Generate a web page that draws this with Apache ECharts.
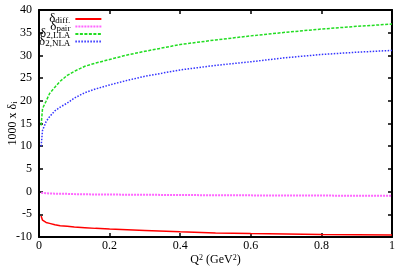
<!DOCTYPE html>
<html>
<head>
<meta charset="utf-8">
<script src="https://cdn.jsdelivr.net/npm/echarts@6/dist/echarts.min.js"></script>
<style>
html,body{margin:0;padding:0;background:#fff;}
#c{width:409px;height:273px;}
</style>
</head>
<body>
<div id="c"></div>
<script>
// Q^2 sample points (GeV^2)
const q2 = [0.006, 0.01, 0.02, 0.03, 0.045, 0.06, 0.08, 0.1, 0.13, 0.16, 0.2, 0.25, 0.3, 0.4, 0.5, 0.6, 0.7, 0.8, 0.9, 1.0];
// 1000 x delta values
const deltaDiff = [-5.4, -6.3, -6.8, -7.0, -7.3, -7.5, -7.65, -7.8, -7.95, -8.1, -8.25, -8.4, -8.55, -8.85, -9.1, -9.25, -9.35, -9.45, -9.5, -9.55];
const deltaPair = [-0.25, -0.3, -0.35, -0.4, -0.45, -0.5, -0.5, -0.55, -0.6, -0.62, -0.65, -0.68, -0.7, -0.75, -0.8, -0.83, -0.86, -0.88, -0.9, -0.92];
const delta2LLA = [14.6, 18.3, 19.9, 21.6, 23.0, 24.3, 25.6, 26.5, 27.6, 28.3, 29.1, 30.1, 30.9, 32.4, 33.4, 34.3, 35.1, 35.8, 36.4, 36.9];
const delta2NLA = [10.0, 13.5, 15.4, 16.5, 17.8, 18.6, 19.5, 20.6, 21.8, 22.6, 23.5, 24.5, 25.4, 26.8, 27.8, 28.6, 29.5, 30.2, 30.7, 31.1];
const seriesNames = ['diff.', 'pair', '2,LLA', '2,NLA'];
const xTicks = {min: 0, max: 1, interval: 0.2};
const yTicks = {min: -10, max: 40, interval: 5};

const FONT = '"Liberation Serif", "DejaVu Serif", serif';
function pairs(ys){ return q2.map((x,i)=>[x, ys[i]]); }

const chart = echarts.init(document.getElementById('c'), null, {renderer:'canvas'});
const axisCommon = {
  axisLine:{show:true, onZero:false, lineStyle:{color:'#000', width:2}},
  axisTick:{show:true, inside:true, length:4, lineStyle:{color:'#000', width:1.5}},
  splitLine:{show:false},
  axisLabel:{color:'#000', fontFamily:FONT, fontSize:12}
};
chart.setOption({
  animation:false,
  backgroundColor:'#fff',
  grid:{left:39, right:17, top:10, bottom:36, containLabel:false, outerBoundsMode:'none'},
  legend:{
    show:true,
    orient:'vertical',
    left:34, top:4.5,
    align:'right',
    itemWidth:26, itemHeight:8,
    itemGap:-8.5,
    data: seriesNames,
    itemStyle:{opacity:0},
    formatter: n => '{d|δ}{s|' + n + '}',
    textStyle:{
      width:32, align:'right', color:'#000', fontFamily:FONT,
      rich:{
        d:{fontSize:13, fontFamily:FONT, color:'#000', lineHeight:13, verticalAlign:'top', align:'right'},
        s:{fontSize:9, fontFamily:FONT, color:'#000', lineHeight:9, padding:[7,0,0,0], verticalAlign:'bottom', align:'right'}
      }
    }
  },
  xAxis:[
    Object.assign({}, axisCommon, {type:'value', min:xTicks.min, max:xTicks.max, interval:xTicks.interval, position:'bottom',
      name:'{a|Q}{b|2}{a| (GeV}{b|2}{a|)}', nameLocation:'middle', nameGap:17, nameMoveOverlap:false,
      nameTextStyle:{color:'#000', fontFamily:FONT, rich:{
        a:{fontSize:12, fontFamily:FONT, color:'#000', verticalAlign:'bottom', lineHeight:12},
        b:{fontSize:8, fontFamily:FONT, color:'#000', verticalAlign:'top', lineHeight:8, padding:[0,0,5,0]}}},
      axisLabel:{color:'#000', fontFamily:FONT, fontSize:12, margin:3}}),
    Object.assign({}, axisCommon, {type:'value', min:xTicks.min, max:xTicks.max, interval:xTicks.interval, position:'top',
      axisLabel:{show:false}})
  ],
  yAxis:[
    Object.assign({}, axisCommon, {type:'value', min:yTicks.min, max:yTicks.max, interval:yTicks.interval, position:'left',
      name:'{a|1000 x δ}{b|i}', nameLocation:'middle', nameGap:20, nameMoveOverlap:false,
      nameTextStyle:{color:'#000', fontFamily:FONT, rich:{
        a:{fontSize:12, fontFamily:FONT, color:'#000', verticalAlign:'top', lineHeight:12},
        b:{fontSize:8, fontFamily:FONT, color:'#000', verticalAlign:'bottom', lineHeight:8, padding:[6,0,0,0]}}},
      axisLabel:{color:'#000', fontFamily:FONT, fontSize:12, margin:7}}),
    Object.assign({}, axisCommon, {type:'value', min:yTicks.min, max:yTicks.max, interval:yTicks.interval, position:'right',
      axisLabel:{show:false}})
  ],
  series:[
    {name:seriesNames[0], type:'line', data:pairs(deltaDiff), showSymbol:false, symbol:'none', z:5,
      lineStyle:{color:'#ff0000', width:1.5, type:'solid'}, itemStyle:{color:'#ff0000'}},
    {name:seriesNames[1], type:'line', data:pairs(deltaPair), showSymbol:false, symbol:'none',
      lineStyle:{color:'#ff66ff', width:2, type:[2,1]}, itemStyle:{color:'#ff66ff'}},
    {name:seriesNames[2], type:'line', data:pairs(delta2LLA), showSymbol:false, symbol:'none',
      lineStyle:{color:'#22dd22', width:1.5, type:[3,1.5]}, itemStyle:{color:'#22dd22'}},
    {name:seriesNames[3], type:'line', data:pairs(delta2NLA), showSymbol:false, symbol:'none',
      lineStyle:{color:'#3333ff', width:1.5, type:[1.5,1.5]}, itemStyle:{color:'#3333ff'}}
  ]
});
</script>
</body>
</html>
